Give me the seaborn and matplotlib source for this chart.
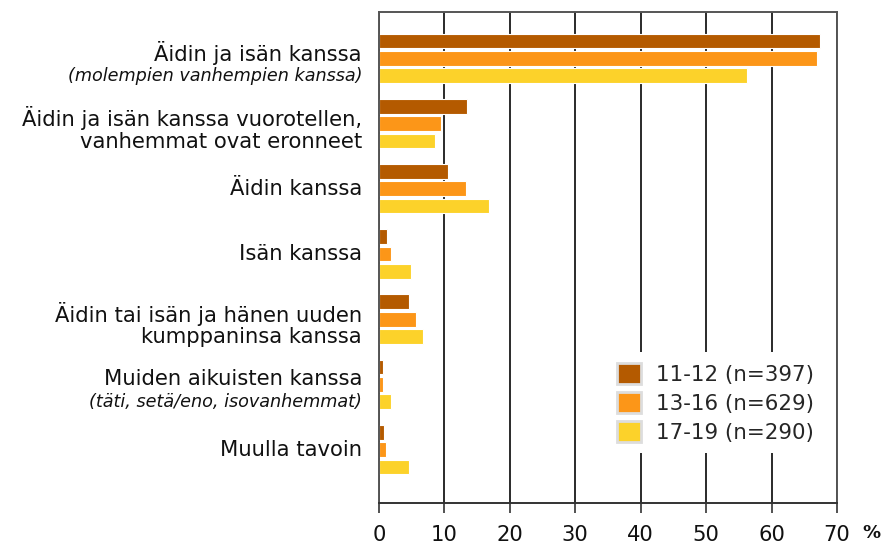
import numpy as np
import pandas as pd
import matplotlib
matplotlib.use("Agg")
import matplotlib.pyplot as plt
import seaborn as sns
from matplotlib.patches import Patch
from matplotlib.transforms import blended_transform_factory

# ---- data ----
categories = [
    "Äidin ja isän kanssa",
    "Äidin ja isän kanssa vuorotellen,\nvanhemmat ovat eronneet",
    "Äidin kanssa",
    "Isän kanssa",
    "Äidin tai isän ja hänen uuden\nkumppaninsa kanssa",
    "Muiden aikuisten kanssa",
    "Muulla tavoin",
]
sublabels = ["(molempien vanhempien kanssa)", "", "", "", "",
             "(täti, setä/eno, isovanhemmat)", ""]
groups = ["11-12 (n=397)", "13-16 (n=629)", "17-19 (n=290)"]
vals_11_12 = [67.4, 13.4, 10.6, 1.2, 4.6, 0.6, 0.8]
vals_13_16 = [66.9, 9.5, 13.3, 1.8, 5.7, 0.6, 1.0]
vals_17_19 = [56.3, 8.6, 16.8, 4.9, 6.7, 1.8, 4.6]
xticks = [0, 10, 20, 30, 40, 50, 60, 70]
colors = ["#B45A00", "#FC9618", "#FCD22A"]

rows = []
for g, vals in zip(groups, [vals_11_12, vals_13_16, vals_17_19]):
    for c, v in zip(categories, vals):
        rows.append({"cat": c, "group": g, "value": v})
df = pd.DataFrame(rows)

sns.set_style("white")
plt.rcParams["font.family"] = ["DejaVu Sans"]

fig = plt.figure(figsize=(8.86, 5.43), dpi=100)
ax = fig.add_axes([379 / 886, 1 - 503 / 543, 458 / 886, 491 / 543])

sns.barplot(data=df, y="cat", x="value", hue="group", order=categories,
            hue_order=groups, palette=colors, orient="h", width=0.8, gap=0.15,
            saturation=1, edgecolor="white", linewidth=0.8, legend=False,
            errorbar=None, ax=ax)

ax.set_xlim(0, 70)
ax.set_ylim(6.82, -0.71)
ax.set_xticks(xticks)
ax.set_xticklabels([str(t) for t in xticks])
ax.set_yticks([])
ax.set_xlabel("")
ax.set_ylabel("")
ax.set_axisbelow(True)
ax.xaxis.grid(True, color="#2a2a2a", linewidth=1.4)
ax.yaxis.grid(False)
for s in ax.spines.values():
    s.set_visible(True)
    s.set_color("#555555")
    s.set_linewidth(1.4)
ax.spines["bottom"].set_color("#333333")
ax.tick_params(axis="x", length=7.5, width=1.2, color="#333333", pad=8,
               labelsize=15.2, labelcolor="#111111", direction="out", bottom=True)

tr = blended_transform_factory(ax.transAxes, ax.transData)
xl = -17 / 458
for i, (lab, sub) in enumerate(zip(categories, sublabels)):
    if sub:
        ax.text(xl, i - 0.08, lab, transform=tr, ha="right", va="center",
                fontsize=15.2, color="#111111")
        ax.text(xl, i + 0.27, sub, transform=tr, ha="right", va="center",
                fontsize=12.7, style="italic", color="#111111")
    else:
        off = 0.08 if "\n" in lab else 0.0
        ax.text(xl, i + off, lab, transform=tr, ha="right", va="center",
                fontsize=15.2, color="#111111", linespacing=1.1)

fig.text(862 / 886, 1 - 533.5 / 543, "%", fontweight="bold", fontsize=13,
         ha="left", va="center", color="#111111")

handles = [Patch(facecolor=c, edgecolor="#dddddd", linewidth=2) for c in colors]
leg = ax.legend(handles, groups, loc="upper left", bbox_to_anchor=(0.4956, 0.3075),
                borderaxespad=0, borderpad=0.5, frameon=True, facecolor="white",
                edgecolor="none", framealpha=1, fancybox=False, fontsize=15.4,
                handlelength=1.13, handleheight=1.17, labelspacing=0.33,
                handletextpad=0.72)

fig.savefig("out.png", dpi=100)
